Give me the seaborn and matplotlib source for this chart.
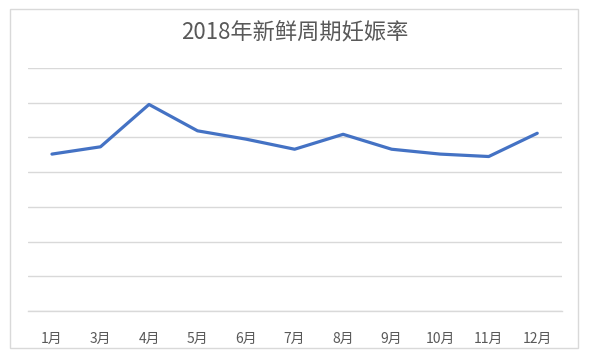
import matplotlib
matplotlib.use("Agg")
import matplotlib.pyplot as plt
import matplotlib.patches as patches
import seaborn as sns
import pandas as pd

months = ["1月", "3月", "4月", "5月", "6月", "7月", "8月", "9月", "10月", "11月", "12月"]
rates = [45.2, 47.3, 59.5, 51.9, 49.5, 46.6, 50.9, 46.6, 45.2, 44.5, 51.2]
title = "2018年新鲜周期妊娠率"

sns.set_theme(style="white")
plt.rcParams['font.family'] = ['Noto Sans CJK SC', 'DejaVu Sans']

df = pd.DataFrame({"month": months, "rate": rates})

fig = plt.figure(figsize=(5.89, 3.57), dpi=100)
ax = fig.add_axes([27.7/589, 1-311/357, (561.5-27.7)/589, (311-68)/357])

sns.lineplot(data=df, x="month", y="rate", ax=ax, color="#4472C4", linewidth=2.3,
             sort=False, solid_joinstyle="round", solid_capstyle="round")

ax.set_xlim(-0.5, len(months)-0.5)
ax.set_ylim(0, 70)
ax.set_yticks(range(0, 71, 10))
ax.yaxis.grid(True, color="#d9d9d9", linewidth=1)
ax.xaxis.grid(False)
ax.set_axisbelow(True)
for s in ["top", "right", "left"]:
    ax.spines[s].set_visible(False)
ax.spines["bottom"].set_color("#d9d9d9")
ax.spines["bottom"].set_linewidth(1)
ax.tick_params(axis="y", left=False, labelleft=False)
ax.tick_params(axis="x", bottom=False, labelsize=10, labelcolor="#595959", pad=9)
ax.set_xlabel("")
ax.set_ylabel("")

fig.text(0.5, 1-33/357, title, ha="center", va="center", fontsize=16, color="#595959")

fig.patches.append(patches.Rectangle((10/589, 1-348/357), 568/589, 339/357,
                                     transform=fig.transFigure, fill=False,
                                     edgecolor="#d9d9d9", linewidth=1))

fig.savefig("out.png", dpi=100)
